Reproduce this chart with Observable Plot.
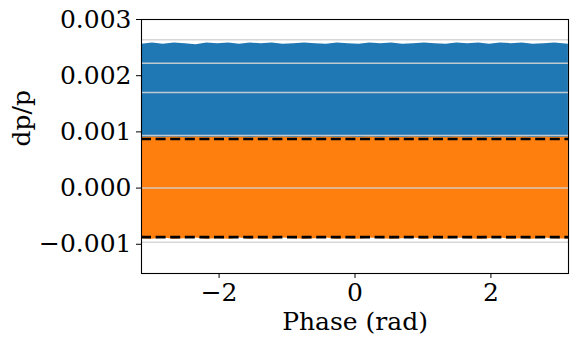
<!DOCTYPE html>
<html>
<head>
<meta charset="utf-8">
<script src="https://cdn.jsdelivr.net/npm/d3@7"></script>
<script src="https://cdn.jsdelivr.net/npm/@observablehq/plot@0.6"></script>
<style>
  html, body { margin: 0; padding: 0; background: white; }
  #chart { width: 578px; height: 344px; }
</style>
</head>
<body>
<div id="chart"></div>
<script>
// Envelope of the scattered particles (phase in rad, dp/p)
const phases = [-3.14, -2.98, -2.82, -2.66, -2.50, -2.34, -2.18, -2.02, -1.86, -1.70,
                -1.54, -1.38, -1.22, -1.06, -0.90, -0.74, -0.58, -0.42, -0.26, -0.10,
                 0.06,  0.22,  0.38,  0.54,  0.70,  0.86,  1.02,  1.18,  1.34,  1.50,
                 1.66,  1.82,  1.98,  2.14,  2.30,  2.46,  2.62,  2.78,  2.94,  3.14];
const blueTop = [0.00256, 0.00258, 0.00256, 0.00258, 0.00257, 0.00255, 0.00258, 0.00257, 0.00258, 0.00256,
                 0.00258, 0.00257, 0.00258, 0.00256, 0.00257, 0.00258, 0.00257, 0.00256, 0.00258, 0.00257,
                 0.00256, 0.00258, 0.00257, 0.00258, 0.00256, 0.00257, 0.00258, 0.00257, 0.00256, 0.00258,
                 0.00257, 0.00258, 0.00256, 0.00258, 0.00257, 0.00258, 0.00256, 0.00257, 0.00258, 0.00256];
const blueBottom = phases.map(() => 0.00088);
const orangeTop = [0.00090, 0.00091, 0.00090, 0.00091, 0.00090, 0.00091, 0.00090, 0.00091, 0.00090, 0.00091,
                   0.00090, 0.00091, 0.00090, 0.00091, 0.00090, 0.00091, 0.00090, 0.00091, 0.00090, 0.00091,
                   0.00090, 0.00091, 0.00090, 0.00091, 0.00090, 0.00091, 0.00090, 0.00091, 0.00090, 0.00091,
                   0.00090, 0.00091, 0.00090, 0.00091, 0.00090, 0.00091, 0.00090, 0.00091, 0.00090, 0.00091];
const orangeBottom = [-0.00090, -0.00091, -0.00089, -0.00091, -0.00090, -0.00089, -0.00091, -0.00090, -0.00091, -0.00089,
                      -0.00091, -0.00090, -0.00091, -0.00089, -0.00090, -0.00091, -0.00090, -0.00089, -0.00091, -0.00090,
                      -0.00091, -0.00089, -0.00090, -0.00091, -0.00090, -0.00089, -0.00091, -0.00090, -0.00091, -0.00089,
                      -0.00090, -0.00091, -0.00090, -0.00089, -0.00091, -0.00090, -0.00091, -0.00089, -0.00090, -0.00091];
// Reference lines
const grayLevels = [0.00264, 0.00222, 0.00170, 0.000936, 0.0, -0.000964];
const bucketLevels = [0.000873, -0.000873];
// Ticks
const xTicks = [-2, 0, 2];
const yTicks = [-0.001, 0.000, 0.001, 0.002, 0.003];
const xLabel = "Phase (rad)";
const yLabel = "dp/p";

const blueRows = phases.map((p, i) => ({phase: p, lo: blueBottom[i], hi: blueTop[i]}));
const orangeRows = phases.map((p, i) => ({phase: p, lo: orangeBottom[i], hi: orangeTop[i]}));
const minus = s => s.replace("-", "\u2212");
const FS = 25;

const chart = Plot.plot({
  width: 578,
  height: 344,
  marginLeft: 141,
  marginRight: 10,
  marginTop: 19,
  marginBottom: 71,
  style: {fontFamily: "'DejaVu Serif', serif", fontSize: FS + "px", color: "black", background: "white"},
  x: {domain: [-Math.PI, Math.PI]},
  y: {domain: [-0.00152, 0.003]},
  marks: [
    Plot.areaY(blueRows, {x: "phase", y1: "lo", y2: "hi", fill: "#1f77b4", curve: "linear"}),
    Plot.areaY(orangeRows, {x: "phase", y1: "lo", y2: "hi", fill: "#ff7f0e", curve: "linear"}),
    Plot.ruleY(grayLevels, {stroke: "#d3d3d3", strokeWidth: 1.5, strokeOpacity: 0.9}),
    Plot.ruleY(bucketLevels, {stroke: "black", strokeWidth: 2.6, strokeDasharray: "10,4.6"}),
    Plot.frame({stroke: "black", strokeWidth: 1.1}),
    Plot.axisX({ticks: xTicks, tickSize: 5, tickPadding: 5, tickFormat: d => minus(String(d)), label: null, fontSize: FS}),
    Plot.axisY({ticks: yTicks, tickSize: 5, tickPadding: 5, tickFormat: d => minus(d.toFixed(3)), label: null, fontSize: FS}),
    Plot.text([xLabel], {text: d => d, frameAnchor: "bottom", dy: 48, lineAnchor: "middle", fontSize: FS}),
    Plot.text([yLabel], {text: d => d, frameAnchor: "left", dx: -120, rotate: -90, lineAnchor: "middle", fontSize: FS})
  ]
});
document.getElementById("chart").append(chart);
</script>
</body>
</html>
